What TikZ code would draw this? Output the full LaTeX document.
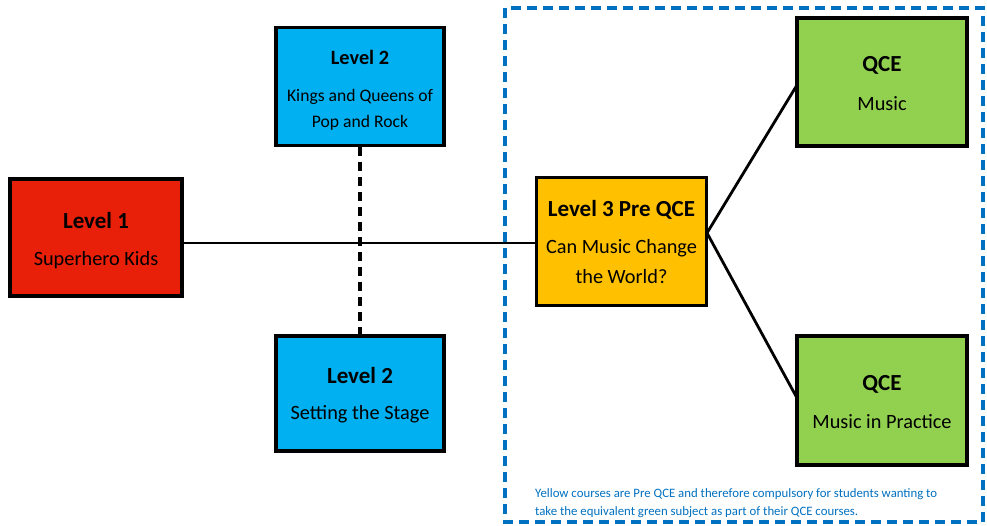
\documentclass[tikz,border=0pt]{standalone}
\usepackage{fontspec}
\setmainfont{Carlito}
\definecolor{lvred}{HTML}{E8200A}
\definecolor{lvblue}{HTML}{00B0F0}
\definecolor{lvyellow}{HTML}{FFC000}
\definecolor{lvgreen}{HTML}{92D050}
\definecolor{framblue}{HTML}{0070C0}
\tikzset{
  box/.style={draw=black, line width=3.6pt},
  ttl/.style={anchor=base, font=\fontsize{23}{26}\selectfont\bfseries, inner sep=0pt},
  sub/.style={anchor=base, font=\fontsize{20.3}{24}\selectfont, inner sep=0pt},
  ttlsm/.style={anchor=base, font=\fontsize{20.3}{24}\selectfont\bfseries, inner sep=0pt},
  subsm/.style={anchor=base, font=\fontsize{17.6}{21}\selectfont, inner sep=0pt},
  conn/.style={line width=2.8pt, black},
  dashconn/.style={line width=3.2pt, black, dash pattern=on 9pt off 6pt},
  note/.style={anchor=base west, font=\fontsize{12.8}{15}\selectfont, text=framblue, inner sep=0pt}
}
\begin{document}
\begin{tikzpicture}[x=1pt,y=-1pt]
\useasboundingbox (0,0) rectangle (987,525);
% dashed frame
\draw[framblue, line width=3.2pt, dash pattern=on 10pt off 6pt] (505,8) rectangle (983,522);
% boxes
\node[box, fill=lvred, minimum width=172pt, minimum height=117pt, inner sep=0pt] (l1) at (96,237.5) {};
\node[box, fill=lvblue, minimum width=168pt, minimum height=118pt, inner sep=0pt] (l2a) at (360,86.5) {};
\node[box, fill=lvblue, minimum width=168pt, minimum height=115pt, inner sep=0pt] (l2b) at (360,393.5) {};
\node[box, fill=lvyellow, minimum width=170pt, minimum height=128pt, inner sep=0pt] (l3) at (621.5,241.5) {};
\node[box, fill=lvgreen, minimum width=170pt, minimum height=128pt, inner sep=0pt] (q1) at (882,82) {};
\node[box, fill=lvgreen, minimum width=170pt, minimum height=129pt, inner sep=0pt] (q2) at (882,400.5) {};
% connectors
\coordinate (l3r) at (707,233);
\coordinate (q1l) at (797,85);
\coordinate (q2l) at (797,398);
\draw[conn] (l1.east |- 0,243) -- (l3.west |- 0,243);
\draw[conn] (l3r) -- (q1l);
\draw[conn] (l3r) -- (q2l);
\draw[dashconn] (l2a.south) -- (l2b.north);
% texts
\node[ttl] (t1) at (96,228) {Level 1};
\node[sub] (s1) at (96,265) {Superhero Kids};
\node[ttlsm] (t2a) at (360,64) {Level 2};
\node[subsm] (s2a) at (360,101) {Kings and Queens of};
\node[subsm] (s2a2) at (360,127) {Pop and Rock};
\node[ttl] (t2b) at (360,383) {Level 2};
\node[sub] (s2b) at (360,419) {Setting the Stage};
\node[ttl] (t3) at (621.5,216) {Level 3 Pre QCE};
\node[sub] (s3) at (621.5,253) {Can Music Change};
\node[sub] (s3b) at (621.5,283) {the World?};
\node[ttl] (tq1) at (882,71) {QCE};
\node[sub] (sq1) at (882,110) {Music};
\node[ttl] (tq2) at (882,390) {QCE};
\node[sub] (sq2) at (882,428) {Music in Practice};
\node[note] (n1) at (535,497) {Yellow courses are Pre QCE and therefore compulsory for students wanting to};
\node[note] (n2) at (535,515) {take the equivalent green subject as part of their QCE courses.};
\end{tikzpicture}
\end{document}
